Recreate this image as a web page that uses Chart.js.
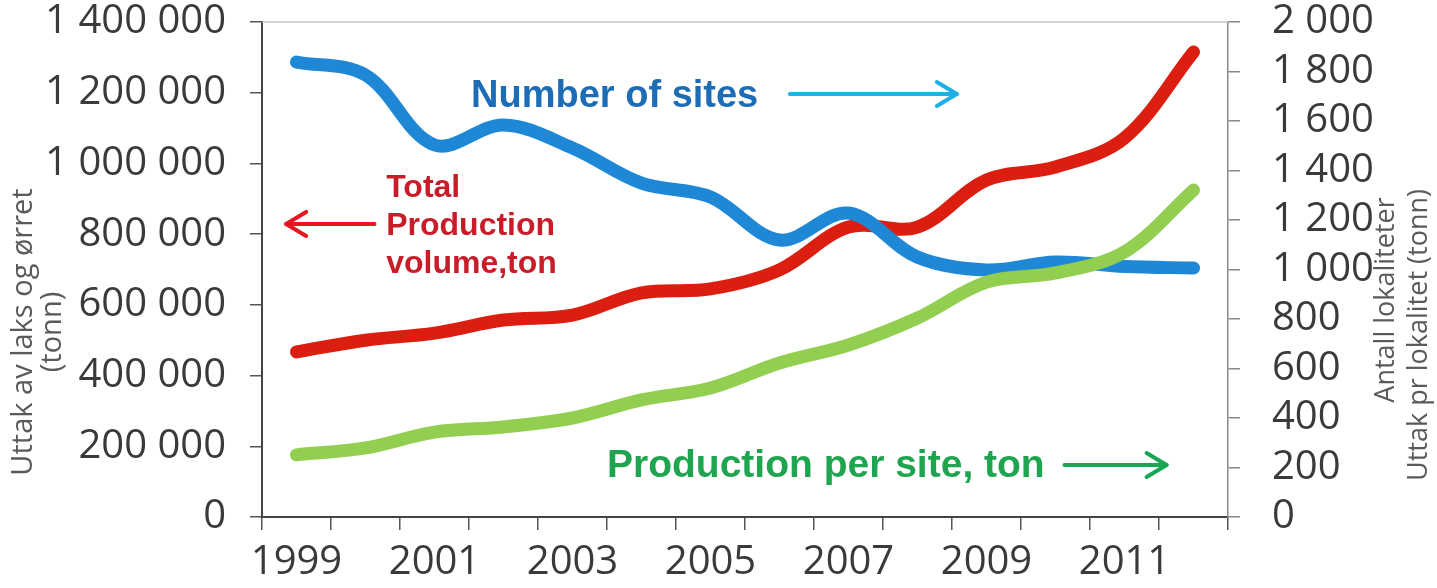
<!DOCTYPE html>
<html>
<head>
<meta charset="utf-8">
<script src="https://cdn.jsdelivr.net/npm/chart.js@4"></script>
<style>
  html, body { margin: 0; padding: 0; background: #ffffff; }
  #wrap { width: 1437px; height: 588px; }
</style>
</head>
<body>
<div id="wrap"><canvas id="c" width="1437" height="588"></canvas></div>
<script>
// ---------------- DATA ----------------
const years = ['1999','2000','2001','2002','2003','2004','2005','2006','2007','2008','2009','2010','2011','2012'];
// Total production volume, ton (left axis)
const totalProduction = [467000, 500000, 520000, 557000, 571000, 634000, 645000, 699000, 820000, 820000, 953000, 990000, 1072000, 1315000];
// Number of sites (right axis)
const numberOfSites = [1838, 1786, 1503, 1584, 1491, 1349, 1293, 1119, 1228, 1050, 998, 1030, 1012, 1006];
// Production per site, ton (right axis)
const productionPerSite = [251, 279, 343, 364, 400, 473, 521, 622, 695, 804, 949, 986, 1071, 1321];

const leftTicks = [0, 200000, 400000, 600000, 800000, 1000000, 1200000, 1400000];
const rightTicks = [0, 200, 400, 600, 800, 1000, 1200, 1400, 1600, 1800, 2000];

const leftTitle = ['Uttak av laks og ørret', '(tonn)'];
const rightTitle = ['Antall lokaliteter', 'Uttak pr lokalitet (tonn)'];

// ---------------- HELPERS ----------------
function fmt(v) { return String(v).replace(/\B(?=(\d{3})+(?!\d))/g, ' '); }

const tickFont = { family: '"Open Sans", "Noto Sans", sans-serif', size: 40, lineHeight: 1.0 };
const tickColor = '#3a3a3a';

// annotation placement in data units (x: category index, y: right-axis units)
const notes = {
  sites:   { text: ['Number of sites'], xi: 2.53, v: 1655, color: '#1c6cb6', size: 38, lh: 0 },
  total:   { text: ['Total', 'Production', 'volume,ton'], xi: 1.30, v: 1293, color: '#c81c28', size: 32, lh: 38 },
  perSite: { text: ['Production per site, ton'], xi: 4.50, v: 162, color: '#1fa54f', size: 39, lh: 0 }
};
const arrows = [
  { from: 7.15, to: 9.57, v: 1709, color: '#1fb0e6' },
  { from: 1.13, to: -0.15, v: 1184, color: '#e8161e' },
  { from: 11.13, to: 12.61, v: 210, color: '#17a653' }
];

function drawArrow(ctx, x1, x2, y, color) {
  ctx.save();
  ctx.strokeStyle = color;
  ctx.lineWidth = 4;
  ctx.lineCap = 'round';
  ctx.lineJoin = 'round';
  ctx.beginPath(); ctx.moveTo(x1, y); ctx.lineTo(x2, y); ctx.stroke();
  const d = Math.sign(x2 - x1);
  ctx.beginPath();
  ctx.moveTo(x2 - d * 20, y - 12);
  ctx.lineTo(x2, y);
  ctx.lineTo(x2 - d * 20, y + 12);
  ctx.stroke();
  ctx.restore();
}

const annotationPlugin = {
  id: 'annotations',
  afterDatasetsDraw(chart) {
    const ctx = chart.ctx;
    const xs = chart.scales.x, ys = chart.scales.y1;
    ctx.save();
    Object.values(notes).forEach(n => {
      ctx.fillStyle = n.color;
      ctx.font = 'bold ' + n.size + 'px "Liberation Sans", Arial, sans-serif';
      ctx.textAlign = 'left';
      ctx.textBaseline = 'alphabetic';
      const x = xs.getPixelForValue(n.xi);
      const y = ys.getPixelForValue(n.v);
      n.text.forEach((t, i) => ctx.fillText(t, x, y + i * n.lh));
    });
    arrows.forEach(a => {
      drawArrow(ctx, xs.getPixelForValue(a.from), xs.getPixelForValue(a.to), ys.getPixelForValue(a.v), a.color);
    });
    ctx.restore();
  },
  afterDraw(chart) {
    const ctx = chart.ctx;
    const area = chart.chartArea;
    ctx.save();
    // top frame line of plot area
    ctx.strokeStyle = '#c4c4c4';
    ctx.lineWidth = 1.5;
    ctx.beginPath(); ctx.moveTo(area.left, area.top); ctx.lineTo(area.right, area.top); ctx.stroke();
    // axis titles
    ctx.fillStyle = '#5a5a5a';
    ctx.textAlign = 'center';
    ctx.textBaseline = 'middle';
    const rot = (t, x, y) => { ctx.save(); ctx.translate(x, y); ctx.rotate(-Math.PI / 2); ctx.fillText(t, 0, 0); ctx.restore(); };
    ctx.font = '29px "Open Sans", "Noto Sans", sans-serif';
    rot(leftTitle[0], 24, 332);
    rot(leftTitle[1], 53, 332);
    ctx.font = '27px "Open Sans", "Noto Sans", sans-serif';
    rot(rightTitle[0], 1386, 300);
    rot(rightTitle[1], 1419, 335);
    ctx.restore();
  }
};

const noPad = s => { s.paddingTop = 0; s.paddingBottom = 0; };

// ---------------- CHART ----------------
new Chart(document.getElementById('c'), {
  type: 'line',
  data: {
    labels: years,
    datasets: [
      { label: 'Production per site, ton', data: productionPerSite, yAxisID: 'y1',
        borderColor: '#92cf50', backgroundColor: '#92cf50', borderWidth: 13, order: 1 },
      { label: 'Number of sites', data: numberOfSites, yAxisID: 'y1',
        borderColor: '#1e88d6', backgroundColor: '#1e88d6', borderWidth: 13, order: 2 },
      { label: 'Total Production volume, ton', data: totalProduction, yAxisID: 'y',
        borderColor: '#dc1e10', backgroundColor: '#dc1e10', borderWidth: 13, order: 3 }
    ]
  },
  options: {
    responsive: false,
    animation: false,
    devicePixelRatio: 1,
    layout: { padding: { top: 22, left: 0, right: 0, bottom: 0 } },
    elements: {
      line: { tension: 0.35, borderCapStyle: 'round', borderJoinStyle: 'round', fill: false },
      point: { radius: 0, hoverRadius: 0 }
    },
    plugins: { legend: { display: false }, tooltip: { enabled: false }, title: { display: false } },
    scales: {
      x: {
        type: 'category',
        offset: true,
        grid: { display: true, drawOnChartArea: false, drawTicks: true, tickLength: 13, tickColor: '#555', lineWidth: 1.5, offset: true },
        border: { display: true, color: '#444', width: 2 },
        ticks: {
          autoSkip: false, maxRotation: 0, minRotation: 0,
          callback: (v, i) => (i % 2 === 0 ? years[i] : ''),
          font: tickFont, color: tickColor, padding: 13
        },
        afterFit: s => { s.height = 71; s.paddingLeft = 0; s.paddingRight = 0; }
      },
      y: {
        type: 'linear', position: 'left',
        min: 0, max: 1400000,
        afterBuildTicks: s => { s.ticks = leftTicks.map(v => ({ value: v })); },
        grid: { display: true, drawOnChartArea: false, drawTicks: true, tickLength: 12, tickColor: '#555', lineWidth: 1.5 },
        border: { display: true, color: '#444', width: 2 },
        ticks: { callback: v => fmt(v), font: tickFont, color: tickColor, padding: 24 },
        afterFit: s => { s.width = 262; noPad(s); }
      },
      y1: {
        type: 'linear', position: 'right',
        min: 0, max: 2000,
        afterBuildTicks: s => { s.ticks = rightTicks.map(v => ({ value: v })); },
        grid: { display: true, drawOnChartArea: false, drawTicks: true, tickLength: 12, tickColor: '#888', lineWidth: 1.5 },
        border: { display: true, color: '#888', width: 1.5 },
        ticks: { callback: v => fmt(v), font: tickFont, color: tickColor, padding: 32 },
        afterFit: s => { s.width = 209; noPad(s); }
      }
    }
  },
  plugins: [annotationPlugin]
});
</script>
</body>
</html>
